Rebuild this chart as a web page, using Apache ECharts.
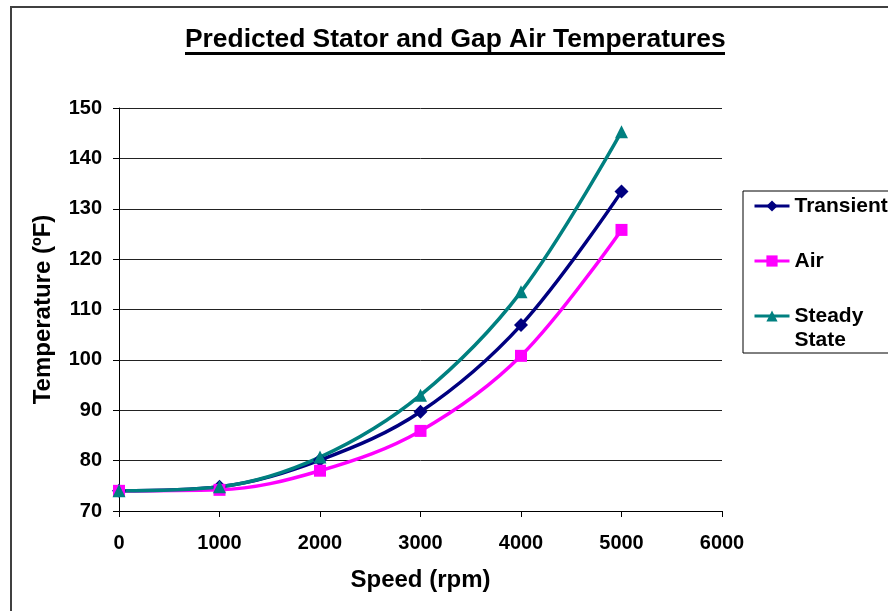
<!DOCTYPE html>
<html>
<head>
<meta charset="utf-8">
<script src="https://cdn.jsdelivr.net/npm/echarts@6/dist/echarts.min.js"></script>
<style>
    html, body {margin: 0; padding: 0; background: #fff;}
    #chart {width: 888px; height: 611px;}
</style>
</head>
<body>
<div id="chart"></div>
<script>
// data
var speeds = [0, 1000, 2000, 3000, 4000, 5000];
var transient = [74, 74.8, 80.1, 89.7, 106.9, 133.4];
var air = [74, 74.2, 78, 85.9, 100.8, 125.8];
var steady = [74, 74.8, 80.7, 93.0, 113.5, 145.3];
var xTicks = [0, 6000, 1000];
var yTicks = [70, 150, 10];

var FONT = 'Liberation Sans, Arial, sans-serif';

function pairs(ys) {
    var out = [];
    for (var i = 0; i < speeds.length; i++) {
        out.push([speeds[i], ys[i]]);
    }
    return out;
}

function initChart() {
    var chart = echarts.init(document.getElementById('chart'));
    var legendText = {fontFamily: FONT, fontSize: 21, fontWeight: 'bold', color: '#000', lineHeight: 24};
    var option = {
        animation: false,
        title: {
            text: 'Predicted Stator and Gap Air Temperatures',
            left: 185,
            top: 27,
            padding: 0,
            textStyle: {fontFamily: FONT, fontSize: 26.4, fontWeight: 'bold', color: '#000', lineHeight: 26}
        },
        grid: {left: 119, top: 108, right: 166, bottom: 100},
        //图例: Transient / Air
        legend: [{
            orient: 'vertical',
            left: 753,
            top: 194,
            padding: 0,
            itemGap: 31,
            itemWidth: 35,
            itemHeight: 14,
            selectedMode: false,
            lineStyle: {width: 3},
            data: ['Transient', 'Air'],
            textStyle: legendText
        }, {
            //图例: Steady State, 空的第一行让 Steady 跟图标对齐
            orient: 'vertical',
            left: 753,
            top: 280,
            padding: 0,
            itemWidth: 35,
            itemHeight: 14,
            selectedMode: false,
            lineStyle: {width: 3},
            data: ['Steady State'],
            formatter: function (name) {
                return '\n' + name.replace(' ', '\n');
            },
            textStyle: legendText
        }],
        graphic: [{
            type: 'rect',
            silent: true,
            shape: {x: 11, y: 7, width: 1000, height: 1000},
            style: {fill: 'none', stroke: '#404040', lineWidth: 2}
        }, {
            type: 'rect',
            silent: true,
            shape: {x: 743, y: 191, width: 300, height: 162},
            style: {fill: 'none', stroke: '#000', lineWidth: 1}
        }, {
            type: 'line',
            silent: true,
            shape: {x1: 185, y1: 53.5, x2: 725, y2: 53.5},
            style: {stroke: '#000', lineWidth: 3}
        }],
        xAxis: {
            type: 'value',
            min: xTicks[0],
            max: xTicks[1],
            interval: xTicks[2],
            name: 'Speed (rpm)',
            nameLocation: 'middle',
            nameGap: 57,
            nameTextStyle: {fontFamily: FONT, fontSize: 24, fontWeight: 'bold', color: '#000'},
            axisLine: {lineStyle: {color: '#000', width: 1}},
            axisTick: {show: true, length: 6, lineStyle: {color: '#000'}},
            axisLabel: {
                margin: 22, fontFamily: FONT, fontSize: 20, fontWeight: 'bold', color: '#000',
                formatter: function (v) {
                    return String(v);
                }
            },
            splitLine: {show: false}
        },
        yAxis: {
            type: 'value',
            min: yTicks[0],
            max: yTicks[1],
            interval: yTicks[2],
            name: 'Temperature (\u00baF)',
            nameLocation: 'middle',
            nameRotate: 90,
            nameGap: 64,
            nameTextStyle: {fontFamily: FONT, fontSize: 24, fontWeight: 'bold', color: '#000'},
            axisLine: {show: true, lineStyle: {color: '#000', width: 1}},
            axisTick: {show: true, length: 6, lineStyle: {color: '#000'}},
            axisLabel: {margin: 17, fontFamily: FONT, fontSize: 20, fontWeight: 'bold', color: '#000'},
            splitLine: {show: true, lineStyle: {color: '#222', width: 1}}
        },
        series: [{
            name: 'Transient',
            type: 'line',
            smooth: 0.35,
            symbol: 'diamond',
            symbolSize: 14,
            itemStyle: {color: '#000080'},
            lineStyle: {color: '#000080', width: 3.5},
            data: pairs(transient)
        }, {
            name: 'Air',
            type: 'line',
            smooth: 0.35,
            symbol: 'rect',
            symbolSize: 12,
            itemStyle: {color: '#FF00FF'},
            lineStyle: {color: '#FF00FF', width: 3.5},
            data: pairs(air)
        }, {
            name: 'Steady State',
            type: 'line',
            smooth: 0.35,
            symbol: 'triangle',
            symbolSize: 13,
            itemStyle: {color: '#008080'},
            lineStyle: {color: '#008080', width: 3.5},
            data: pairs(steady)
        }]
    };
    chart.setOption(option);
}
initChart();
</script>
</body>
</html>
